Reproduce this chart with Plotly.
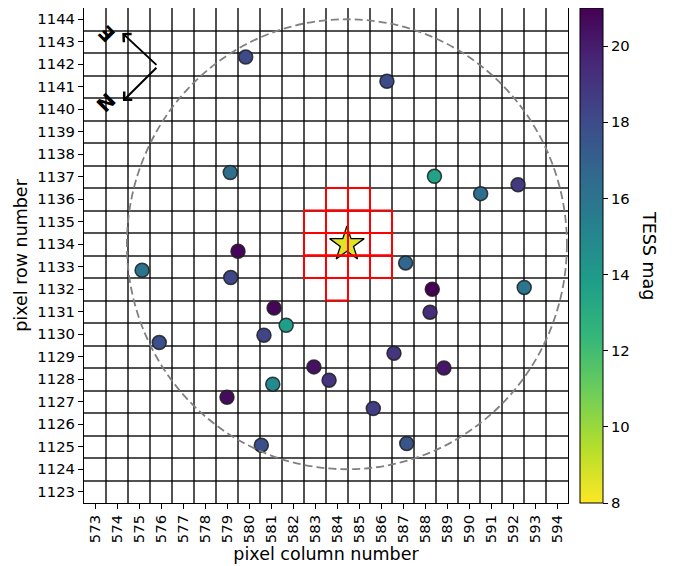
import plotly.graph_objects as go

# ---- data ----
star_cols = [579.85, 579.15, 586.27, 588.43, 590.53, 592.23, 579.50, 575.14, 579.17,
             587.12, 588.33, 592.51, 581.14, 588.23, 581.69, 580.68, 575.92, 586.59,
             582.95, 588.86, 583.64, 581.08, 579.00, 585.65, 580.56, 587.17]
star_rows = [1142.32, 1137.19, 1141.24, 1137.02, 1136.25, 1136.64, 1133.69, 1132.84, 1132.52,
             1133.17, 1132.00, 1132.08, 1131.17, 1130.98, 1130.40, 1129.96, 1129.63, 1129.16,
             1128.55, 1128.50, 1127.96, 1127.78, 1127.20, 1126.70, 1125.07, 1125.14]
star_mags = [18.0, 16.3, 18.0, 13.6, 16.3, 18.8, 20.8, 16.0, 18.2,
             16.7, 21.0, 15.9, 20.8, 19.3, 13.8, 18.3, 17.8, 19.0,
             20.4, 20.2, 19.0, 14.8, 20.6, 18.6, 17.8, 17.6]

target_col = [584.45]
target_row = [1134.0]
target_mag = [8.6]
search_radius = 10  # pixels

aper_cols = [584, 585,
             583, 584, 585, 586,
             583, 584, 585, 586,
             583, 584, 585, 586,
             584]
aper_rows = [1136, 1136,
             1135, 1135, 1135, 1135,
             1134, 1134, 1134, 1134,
             1133, 1133, 1133, 1133,
             1132]

col_ticks = list(range(573, 595))
row_ticks = list(range(1123, 1145))
cbar_ticks = [8, 10, 12, 14, 16, 18, 20]
mag_min, mag_max = 8, 21

FONT = "DejaVu Sans"
TICK = 14.8
TITLE = 17.5

fig = go.Figure()

fig.add_trace(go.Scatter(
    x=star_cols, y=star_rows, mode="markers",
    marker=dict(size=14, color=star_mags, colorscale="Viridis", reversescale=True,
                cmin=mag_min, cmax=mag_max,
                line=dict(color="rgba(30,30,30,0.85)", width=1.5),
                colorbar=dict(x=1.0248, xanchor="left", xpad=0, ypad=0,
                              y=0.5, yanchor="middle", len=1.0, lenmode="fraction",
                              thickness=23, outlinewidth=1, outlinecolor="black",
                              tickvals=cbar_ticks, ticks="outside", ticklen=5,
                              tickcolor="black", tickfont=dict(size=TICK, color="black", family=FONT))),
    showlegend=False, hoverinfo="skip"))

# aperture
for c, r in zip(aper_cols, aper_rows):
    fig.add_shape(type="rect", xref="x", yref="y", x0=c - 0.5, x1=c + 0.5, y0=r - 0.5, y1=r + 0.5,
                  line=dict(color="red", width=2), layer="above")

# search circle
fig.add_shape(type="circle", xref="x", yref="y",
              x0=target_col[0] - search_radius, x1=target_col[0] + search_radius,
              y0=target_row[0] - search_radius, y1=target_row[0] + search_radius,
              line=dict(color="gray", width=1.8, dash="8px,4px"))

fig.add_trace(go.Scatter(
    x=target_col, y=target_row, mode="markers",
    marker=dict(symbol="star", size=26, color=target_mag, colorscale="Viridis", reversescale=True,
                cmin=mag_min, cmax=mag_max, line=dict(color="black", width=1.3)),
    showlegend=False, hoverinfo="skip"))

# compass
vx, vy = 575.86, 1141.91
for tx, ty in [(574.24, 1143.39), (574.27, 1140.37)]:
    fig.add_annotation(x=tx, y=ty, ax=vx, ay=vy, xref="x", yref="y", axref="x", ayref="y",
                       showarrow=True, arrowhead=4, arrowsize=1.1, arrowwidth=2,
                       arrowcolor="black", text="")
fig.add_annotation(x=573.51, y=1143.36, xref="x", yref="y", text="<b>E</b>", showarrow=False,
                   xanchor="center", yanchor="middle",
                   textangle=-135, font=dict(size=20, color="black", family=FONT))
fig.add_annotation(x=573.51, y=1140.30, xref="x", yref="y", text="<b>N</b>", showarrow=False,
                   xanchor="center", yanchor="middle",
                   textangle=135, font=dict(size=20, color="black", family=FONT))

# colorbar label
fig.add_annotation(xref="paper", yref="paper", x=(649 - 84) / 484, y=1 - (255 - 8) / 495,
                   xanchor="center", yanchor="middle",
                   text="TESS mag", showarrow=False, textangle=90,
                   font=dict(size=TITLE, color="black", family=FONT))

grid_col = "rgba(0,0,0,0.68)"
fig.update_xaxes(range=[572.5, 594.5], tickvals=col_ticks, tickangle=-90,
                 ticks="outside", ticklen=5, tickcolor="black", showgrid=False, zeroline=False,
                 showline=True, mirror=True, linecolor="black", linewidth=1,
                 minor=dict(tick0=572.5, dtick=1, showgrid=True, gridcolor=grid_col, gridwidth=1.5, ticklen=0),
                 tickfont=dict(size=TICK, color="black", family=FONT),
                 title=dict(text="pixel column number", font=dict(size=TITLE, color="black", family=FONT), standoff=5),
                 automargin=False)
fig.update_yaxes(range=[1122.5, 1144.5], tickvals=row_ticks,
                 ticks="outside", ticklen=5, tickcolor="black", showgrid=False, zeroline=False,
                 showline=True, mirror=True, linecolor="black", linewidth=1,
                 minor=dict(tick0=1122.5, dtick=1, showgrid=True, gridcolor=grid_col, gridwidth=1.5, ticklen=0),
                 tickfont=dict(size=TICK, color="black", family=FONT),
                 title=dict(text="pixel row number", font=dict(size=TITLE, color="black", family=FONT), standoff=5),
                 automargin=False)

# page body has an 8px margin, so the figure is shifted by -8px to land where the reference is
fig.update_layout(width=668, height=558, margin=dict(l=76, r=108, t=0, b=63),
                  plot_bgcolor="white", paper_bgcolor="white",
                  font=dict(family=FONT, color="black"))

fig.write_html("out.html")
